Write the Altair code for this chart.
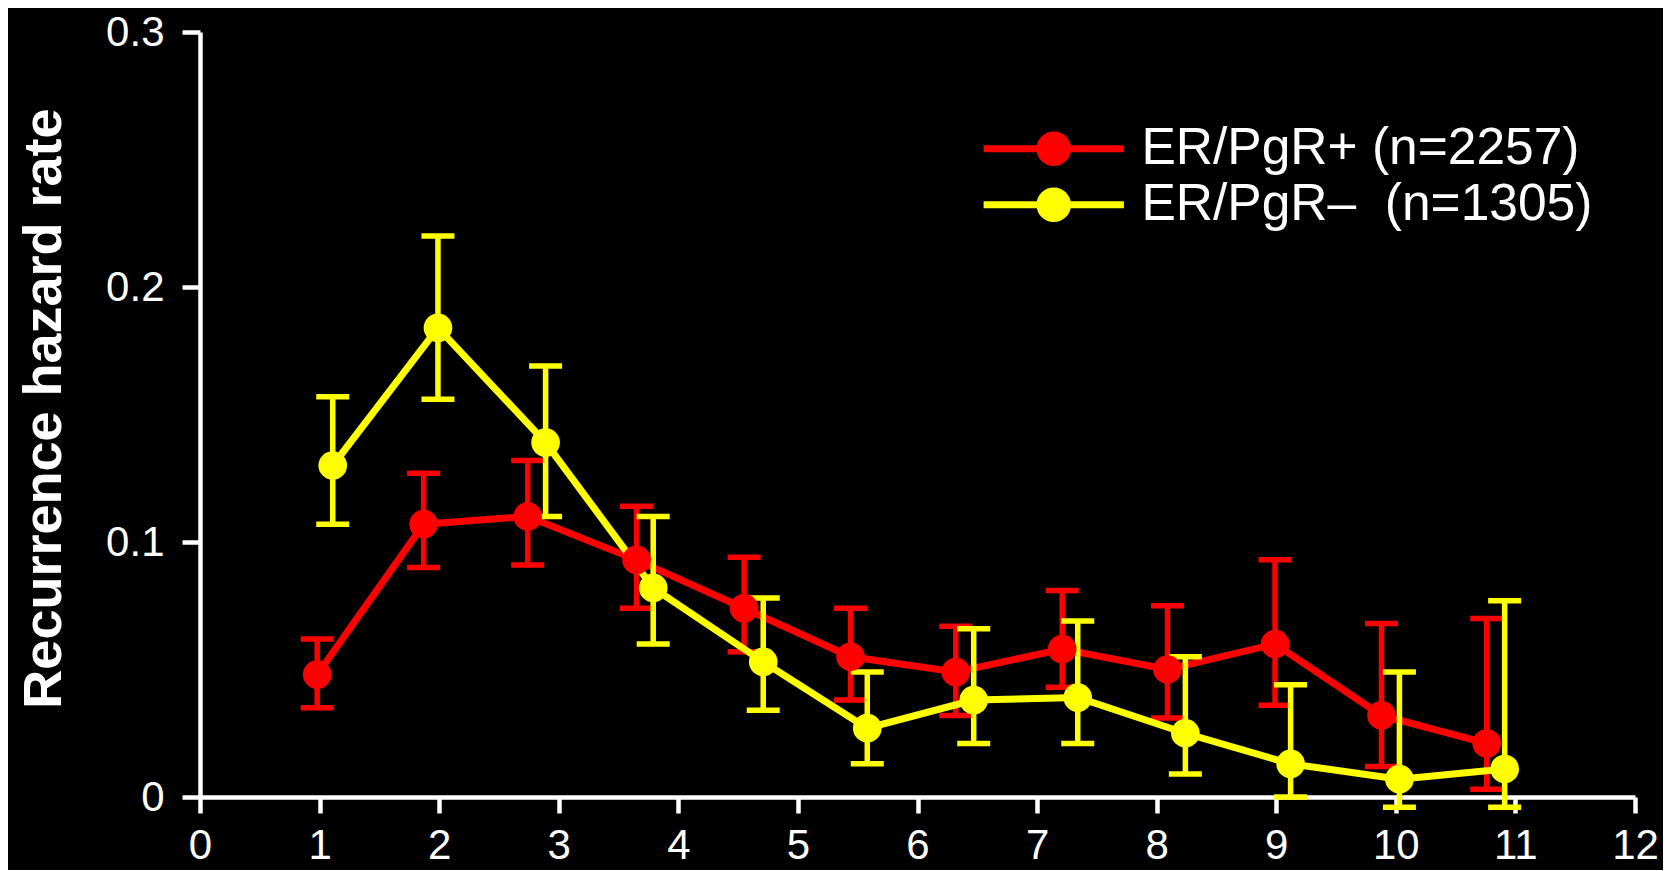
import altair as alt
import pandas as pd

FONT = "Liberation Sans, Arial, Helvetica, sans-serif"

series_names = ["ER/PgR+ (n=2257)", "ER/PgR\u2013\u00a0 (n=1305)"]
series_colors = ["#ff0000", "#ffff00"]

# ER/PgR+ series
pos_x = [0.98, 1.87, 2.74, 3.65, 4.55, 5.44, 6.32, 7.21, 8.09, 8.99, 9.88, 10.76]
pos_y = [0.048, 0.107, 0.110, 0.093, 0.074, 0.055, 0.049, 0.058, 0.050, 0.060, 0.032, 0.021]
pos_lo = [0.035, 0.090, 0.091, 0.074, 0.057, 0.038, 0.032, 0.043, 0.031, 0.036, 0.012, 0.003]
pos_hi = [0.062, 0.127, 0.132, 0.114, 0.094, 0.074, 0.067, 0.081, 0.075, 0.093, 0.068, 0.070]

# ER/PgR- series
neg_x = [1.11, 1.99, 2.89, 3.79, 4.71, 5.58, 6.47, 7.34, 8.24, 9.12, 10.03, 10.91]
neg_y = [0.130, 0.184, 0.139, 0.082, 0.053, 0.027, 0.038, 0.039, 0.025, 0.013, 0.007, 0.011]
neg_lo = [0.107, 0.156, 0.110, 0.060, 0.034, 0.013, 0.021, 0.021, 0.009, 0.000, -0.004, -0.004]
neg_hi = [0.157, 0.220, 0.169, 0.110, 0.078, 0.049, 0.066, 0.069, 0.055, 0.044, 0.049, 0.077]

x_ticks = list(range(13))
y_ticks = [0, 0.1, 0.2, 0.3]

rows = []
for name, xs, ys, los, his in [
    (series_names[0], pos_x, pos_y, pos_lo, pos_hi),
    (series_names[1], neg_x, neg_y, neg_lo, neg_hi),
]:
    for a, b, c, d in zip(xs, ys, los, his):
        rows.append({"series": name, "x": a, "y": b, "lo": c, "hi": d})
df = pd.DataFrame(rows)

xscale = alt.Scale(domain=[0, 12], nice=False, zero=False)
yscale = alt.Scale(domain=[0, 0.3], nice=False)
cscale = alt.Scale(domain=series_names, range=series_colors)

xaxis = alt.Axis(
    values=x_ticks, format="d", title=None, grid=False,
    domainColor="white", domainWidth=4.5, tickColor="white", tickWidth=4.5, tickSize=16,
    labelColor="white", labelFontSize=42, labelFont=FONT, labelPadding=12,
    labelFlush=False, labelOverlap=False, labelBound=False,
)
yaxis = alt.Axis(
    values=y_ticks, format="~g", title="Recurrence hazard rate", grid=False,
    titleFontSize=54, titleFontWeight="bold", titleColor="white", titleFont=FONT,
    titleX=-140, titleY=376, titleAngle=270, titleAlign="center", titleBaseline="alphabetic",
    domainColor="white", domainWidth=4.5, tickColor="white", tickWidth=4.5, tickSize=18,
    labelColor="white", labelFontSize=42, labelFont=FONT, labelPadding=18,
    labelFlush=False, labelOverlap=False, labelBound=False,
)

X = alt.X("x:Q", scale=xscale, axis=xaxis)

def Yf(field):
    return alt.Y(f"{field}:Q", scale=yscale, axis=yaxis)

LEGEND_PATH = "M-4.05,-0.2H4.05V0.2H-4.05Z M-1,0A1,1,0,1,1,1,0A1,1,0,1,1,-1,0Z"
col_legend = alt.Color(
    "series:N", scale=cscale,
    legend=alt.Legend(
        title=None, orient="none", legendX=828, legendY=91,
        symbolType=LEGEND_PATH, symbolSize=1200, symbolStrokeWidth=0,
        labelFontSize=51.5, labelColor="white", labelFont=FONT, labelOffset=62,
        rowPadding=3, labelLimit=1000,
    ),
)

base = alt.Chart(df)

layers = []
for name, colr in zip(series_names, series_colors):
    sub = base.transform_filter(alt.FieldEqualPredicate(field="series", equal=name))
    layers.append(sub.mark_rule(strokeWidth=5.5, color=colr).encode(
        x=X, y=Yf("lo"), y2="hi:Q"))
    layers.append(sub.mark_tick(orient="horizontal", size=33, thickness=5.5,
                                color=colr, opacity=1).encode(x=X, y=Yf("lo")))
    layers.append(sub.mark_tick(orient="horizontal", size=33, thickness=5.5,
                                color=colr, opacity=1).encode(x=X, y=Yf("hi")))
    layers.append(sub.mark_line(strokeWidth=7, color=colr).encode(x=X, y=Yf("y")))

points = base.mark_circle(size=820, opacity=1).encode(x=X, y=Yf("y"), color=col_legend)
layers.append(points)

chart = (
    alt.layer(*layers)
    .properties(
        width=1435, height=765,
        padding={"left": 192, "top": 24, "right": 28, "bottom": 73},
        autosize=alt.AutoSizeParams(type="none"),
        background="black",
    )
    .configure_view(stroke=None)
)

chart.save("out.html", embed_options={"renderer": "svg", "actions": False})
